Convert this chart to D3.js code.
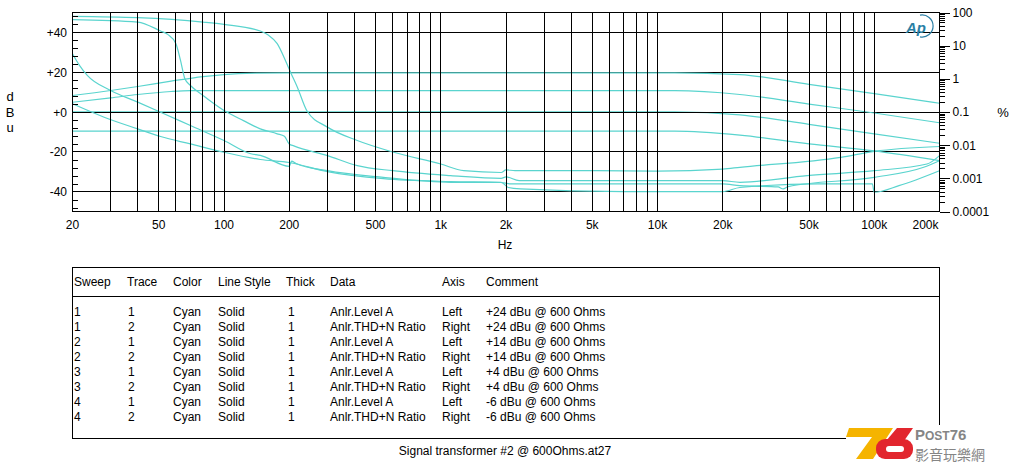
<!DOCTYPE html>
<meta charset="utf-8">
<style>
body { margin: 0; background: #fff; }
svg { display: block; font-family: "Liberation Sans", Arial, sans-serif; font-size: 12px; }
.grid line, .frame, .tick line { stroke: #000; shape-rendering: crispEdges; }
.trace { fill: none; stroke: #5ad4ce; stroke-width: 1.2; }
.domain { display: none; }
</style>
<body>
<svg width="1012" height="463"></svg>
<script src="https://d3js.org/d3.v7.min.js"></script>
<script>

// ---- data: [Hz, value] ----
var level24 = [[20,8.3],[30,10.8],[40,12.8],[57,15.5],[80,17.8],[100,18.8],[140,19.5],[200,19.7],[12000,19.7],[24000,18.8],[50000,13.9],[100000,9.2],[200000,4.4]];
var level14 = [[20,4.9],[30,7.1],[40,8.8],[57,10.3],[70,10.7],[12000,10.7],[24000,8.8],[50000,4],[100000,-0.5],[200000,-5.4]];
var level4  = [[20,0.1],[12000,0.1],[24000,-1.4],[50000,-6.2],[100000,-11],[200000,-15.7]];
var levelM6 = [[20,-9.6],[12000,-9.6],[24000,-11.6],[50000,-16],[100000,-19.5],[200000,-24.4]];

var thd24 = [[20,76.7],[40,70],[80,51.6],[100,44],[147,27.6],[160,21],[176,11.5],[192,3.6],[203,1.56],[218,0.56],[242,0.105],[300,0.035],[412,0.0138],[607,0.0061],[1000,0.0027],[1277,0.0017],[1900,0.0015],[2000,0.0018],[2200,0.0017],[5000,0.0017],[10000,0.00165],[20000,0.0019],[24000,0.00215],[70000,0.0043],[100000,0.0065],[200000,0.0091]];
var thd14 = [[20,61],[40,51.6],[51,27.6],[55,21.9],[60,11.5],[63,3.6],[66,1.0],[70,0.63],[80,0.315],[100,0.111],[123,0.055],[147,0.031],[176,0.022],[190,0.0185],[200,0.0109],[210,0.0095],[300,0.00485],[412,0.00242],[600,0.0017],[1110,0.00121],[1900,0.001],[2000,0.0011],[2300,0.00085],[20000,0.00085],[24000,0.00076],[49000,0.00121],[100000,0.0017],[175000,0.0027],[200000,0.00485]];
var thd4  = [[20,5.73],[21.5,2.6],[23.4,1.27],[30,0.447],[40,0.198],[51,0.0986],[70,0.039],[100,0.0138],[133,0.0055],[147,0.0049],[200,0.0023],[205,0.0033],[215,0.0028],[300,0.0017],[544,0.00107],[1110,0.00076],[1900,0.00076],[2050,0.00053],[2330,0.00048],[7000,0.0004],[20000,0.0004],[24000,0.00053],[55000,0.00068],[98000,0.00068],[100000,0.00038],[130000,0.0006],[200000,0.0017]];
var thdM6 = [[20,0.177],[28,0.0697],[40,0.031],[51,0.0182],[70,0.0109],[100,0.0061],[147,0.0037],[200,0.003],[300,0.0016],[544,0.00098],[1110,0.0008],[1900,0.00075],[2100,0.00068],[20000,0.00068],[24000,0.0006],[36000,0.00055],[38000,0.00048],[40000,0.00056],[100000,0.00107],[169000,0.00215],[200000,0.0034]];

var xLabels = [20,50,100,200,500,1000,2000,5000,10000,20000,50000,100000,200000];
var xLabelText = ["20","50","100","200","500","1k","2k","5k","10k","20k","50k","100k","200k"];
var leftMajor = [40,20,0,-20,-40];
var leftLabelText = ["+40","+20","+0","-20","-40"];
var rightMajor = [100,10,1,0.1,0.01,0.001,0.0001];
var rightLabelText = ["100","10","1","0.1","0.01","0.001","0.0001"];

// table columns
var colSweep = ["1","1","2","2","3","3","4","4"];
var colTrace = ["1","2","1","2","1","2","1","2"];
var colData  = ["Anlr.Level A","Anlr.THD+N Ratio","Anlr.Level A","Anlr.THD+N Ratio","Anlr.Level A","Anlr.THD+N Ratio","Anlr.Level A","Anlr.THD+N Ratio"];
var colAxis  = ["Left","Right","Left","Right","Left","Right","Left","Right"];
var colComment = ["+24 dBu @ 600 Ohms","+24 dBu @ 600 Ohms","+14 dBu @ 600 Ohms","+14 dBu @ 600 Ohms","+4 dBu @ 600 Ohms","+4 dBu @ 600 Ohms","-6 dBu @ 600 Ohms","-6 dBu @ 600 Ohms"];

var svg = d3.select("svg");
var L = 72.5, R = 939.5, T = 12.5, B = 211.5;

var x = d3.scaleLog().domain([20, 200000]).range([L, R]);
var yL = d3.scaleLinear().domain([-50, 50]).range([B, T]);
var yR = d3.scaleLog().domain([0.0001, 100]).range([B, T]);

var lineL = d3.line().x(function(d) { return x(d[0]); }).y(function(d) { return yL(d[1]); }).curve(d3.curveMonotoneX);
var lineR = d3.line().x(function(d) { return x(d[0]); }).y(function(d) { return yR(d[1]); }).curve(d3.curveMonotoneX);

function crisp(v) { return Math.round(v - 0.5) + 0.5; }

// the 0 dBu trace sits under its gridline, the rest over the horizontal grid
svg.append("path").attr("class", "trace").attr("d", lineL(level4));

var hgrid = svg.append("g").attr("class", "grid");
hgrid.selectAll("line").data(leftMajor).enter().append("line")
    .attr("x1", L).attr("x2", R)
    .attr("y1", function(d) { return crisp(yL(d)); })
    .attr("y2", function(d) { return crisp(yL(d)); });

var traces = svg.append("g");
[level24, level14, levelM6].forEach(function(s) {
  traces.append("path").attr("class", "trace").attr("d", lineL(s));
});
[thd24, thd14, thd4, thdM6].forEach(function(s) {
  traces.append("path").attr("class", "trace").attr("d", lineR(s));
});

var vgrid = svg.append("g").attr("class", "grid");
vgrid.selectAll("line").data(x.ticks()).enter().append("line")
    .attr("x1", function(d) { return crisp(x(d)); })
    .attr("x2", function(d) { return crisp(x(d)); })
    .attr("y1", T).attr("y2", B);

svg.append("rect").attr("class", "frame")
    .attr("x", L).attr("y", T).attr("width", R - L).attr("height", B - T)
    .attr("fill", "none");

// left minor ticks, pointing inward
var leftMinor = d3.range(-48, 49, 4).filter(function(v) { return v % 20 !== 0; });
svg.append("g").attr("transform", "translate(" + L + ",0)")
    .call(d3.axisRight(yL).tickValues(leftMinor).tickSize(5).tickFormat(""));

svg.selectAll(".ll").data(leftMajor).enter().append("text")
    .attr("x", 67).attr("y", function(d) { return yL(d) + 4.5; })
    .attr("text-anchor", "end").text(function(d, i) { return leftLabelText[i]; });

["d","B","u"].forEach(function(c, i) {
  svg.append("text").attr("x", 10).attr("y", 101 + i * 15.5)
     .attr("text-anchor", "middle").style("font-size", "13px").text(c);
});

// right log axis
var rightMinor = [];
rightMajor.slice(1).forEach(function(m) {
  for (var k = 2; k < 10; k++) rightMinor.push(m * k);
});
svg.append("g").attr("transform", "translate(" + R + ",0)")
    .call(d3.axisRight(yR).tickValues(rightMinor).tickSize(5).tickFormat(""));
svg.append("g").attr("transform", "translate(" + R + ",0)")
    .call(d3.axisRight(yR).tickValues(rightMajor).tickSize(10).tickPadding(3)
      .tickFormat(function(d, i) { return rightLabelText[i]; }))
    .selectAll("text").style("font-size", "12px").style("font-family", "Liberation Sans, Arial, sans-serif");

svg.append("text").attr("x", 1003).attr("y", 117).attr("text-anchor", "middle")
    .style("font-size", "13px").text("%");

svg.selectAll(".xl").data(xLabels).enter().append("text")
    .attr("x", function(d, i) { return i === xLabels.length - 1 ? R - 1 : x(d); })
    .attr("y", 229)
    .attr("text-anchor", function(d, i) { return i === xLabels.length - 1 ? "end" : "middle"; })
    .text(function(d, i) { return xLabelText[i]; });
svg.append("text").attr("x", 505).attr("y", 249).attr("text-anchor", "middle").text("Hz");

// Ap logo
svg.append("text").attr("x", 906).attr("y", 33)
    .style("font-style", "italic").style("font-weight", "bold").style("font-size", "15px")
    .attr("fill", "#2b7fa5").text("Ap");
svg.append("path").attr("d", "M920,15.2 A11,11 0 1,1 920,36.8")
    .attr("fill", "none").attr("stroke", "#2b7fa5").attr("stroke-width", 1.2);

// legend table
var tb = svg.append("g");
tb.append("rect").attr("class", "frame").attr("x", 72.5).attr("y", 267.5)
    .attr("width", 867).attr("height", 171).attr("fill", "none");
tb.append("line").attr("class", "frame").attr("x1", 72.5).attr("x2", 939.5)
    .attr("y1", 296.5).attr("y2", 296.5);

var colX = [74, 127, 173, 218, 286, 330, 442, 486];
var heads = ["Sweep","Trace","Color","Line Style","Thick","Data","Axis","Comment"];
heads.forEach(function(h, i) {
  tb.append("text").attr("x", colX[i]).attr("y", 286).text(h);
});
colSweep.forEach(function(s, r) {
  var yy = 316 + r * 15;
  var cells = [s, colTrace[r], "Cyan", "Solid", "1", colData[r], colAxis[r], colComment[r]];
  var cx = [74, 128, 173, 218, 288, 330, 442, 486];
  cells.forEach(function(c, i) {
    tb.append("text").attr("x", cx[i]).attr("y", yy).text(c);
  });
});

svg.append("text").attr("x", 505).attr("y", 455).attr("text-anchor", "middle")
    .text("Signal transformer #2 @ 600Ohms.at27");

// Post76 watermark
var wm = svg.append("g");
wm.append("rect").attr("x", 846).attr("y", 425).attr("width", 160).attr("height", 38).attr("fill", "#fff");
wm.append("path").attr("d", "M849,428 L893,428 L873,459 L856,459 L872,437 L846,437 Z").attr("fill", "#f5b400");
wm.append("path").attr("d", "M897,428 L913,428 L904,441 L886,441 Z").attr("fill", "#e2262e");
wm.append("rect").attr("x", 876).attr("y", 439).attr("width", 37).attr("height", 20).attr("rx", 9).attr("fill", "#e2262e");
wm.append("rect").attr("x", 886).attr("y", 446).attr("width", 18).attr("height", 6).attr("rx", 3).attr("fill", "#fff");
var pt = wm.append("text").attr("x", 915).attr("y", 440).attr("fill", "#858585")
    .style("font-family", "Liberation Sans, Arial, sans-serif").style("font-weight", "bold");
pt.append("tspan").style("font-size", "15px").text("P");
pt.append("tspan").style("font-size", "12px").text("OST");
pt.append("tspan").style("font-size", "15px").text("76");
wm.append("text").attr("x", 915).attr("y", 460).attr("fill", "#858585")
    .style("font-family", "Noto Sans CJK TC, sans-serif").style("font-size", "14px")
    .text("影音玩樂網");

</script>
</body>
